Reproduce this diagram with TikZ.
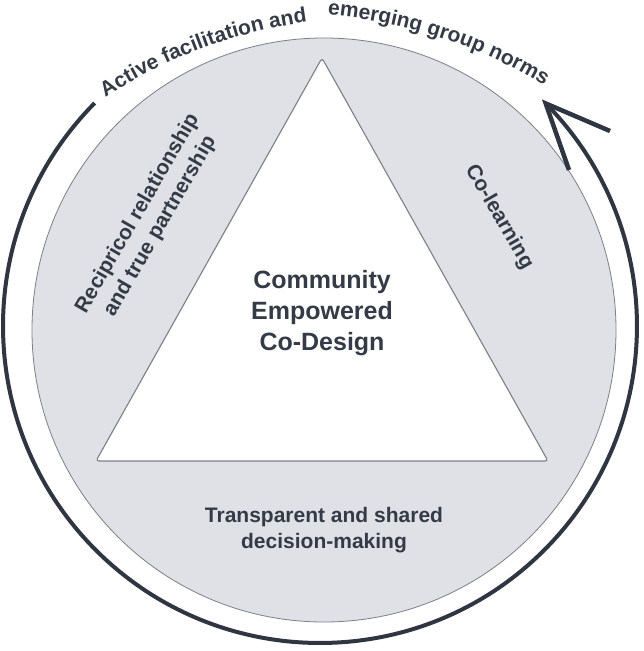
\documentclass[tikz,border=0pt]{standalone}
\usepackage{fontspec}
\setmainfont{Liberation Sans}
\usetikzlibrary{decorations.text}
\definecolor{ringfill}{HTML}{DFE1E6}
\definecolor{inkc}{HTML}{353B46}
\definecolor{arcc}{HTML}{2F3541}
\definecolor{edgec}{HTML}{7C7F85}
\begin{document}
\begin{tikzpicture}[x=1pt,y=1pt,
  lbl/.style={font=\bfseries\fontsize{21}{26}\selectfont, text=inkc, align=center, inner sep=0pt},
  ring/.style={fill=ringfill, draw=edgec, line width=0.8pt},
  tri/.style={fill=white, draw=edgec, line width=1.1pt, rounded corners=3pt},
  cycleline/.style={draw=arcc, line width=4pt},
  barb/.style={draw=arcc, line width=4.5pt, line join=miter},
  arctext/.style={decorate, decoration={text along path, text color=inkc, text align=left, text={#1}}}]
\useasboundingbox (0,0) rectangle (644,651);
\fill[white] (0,0) rectangle (644,651);
% grey disc
\coordinate (gc) at (324,321);
\path[ring] (gc) circle[radius=292];
% triangle
\coordinate (apex) at (322,593);
\coordinate (bl) at (96,190);
\coordinate (br) at (548,190);
\path[tri] (apex) -- (bl) -- (br) -- cycle;
% cycle arrow
\coordinate (bc) at (320,325);
\coordinate (arcstart) at ([shift={(135.3:317)}]bc);
\path[cycleline] (arcstart) arc[start angle=135.3, end angle=404.6, radius=317] coordinate (tip);
\coordinate (w1) at (610,520);
\coordinate (w2) at (569,481);
\path[barb] (w1) -- (tip) -- (w2);
% curved title text
\coordinate (lc) at (377,134);
\coordinate (rc) at (285,138);
\path[arctext={|\bfseries\fontsize{21}{21}\selectfont|Active facilitation and}]
  ([shift={(122.9:500)}]lc) arc[start angle=122.9, end angle=97, radius=500];
\path[arctext={|\bfseries\fontsize{21}{21}\selectfont|emerging group norms}]
  ([shift={(85.1:500)}]rc) arc[start angle=85.1, end angle=56, radius=500];
% labels
\node[lbl, font=\bfseries\fontsize{25}{31}\selectfont] (core) at (322,338) {Community\\Empowered\\Co-Design};
\node[lbl] (decide) at (324,121) {Transparent and shared\\decision-making};
\node[lbl, rotate=60] (recip) at (149,431) {Recipricol relationship\\and true partnership};
\node[lbl, rotate=-60] (colearn) at (499,434) {Co-learning};
\end{tikzpicture}
\end{document}
